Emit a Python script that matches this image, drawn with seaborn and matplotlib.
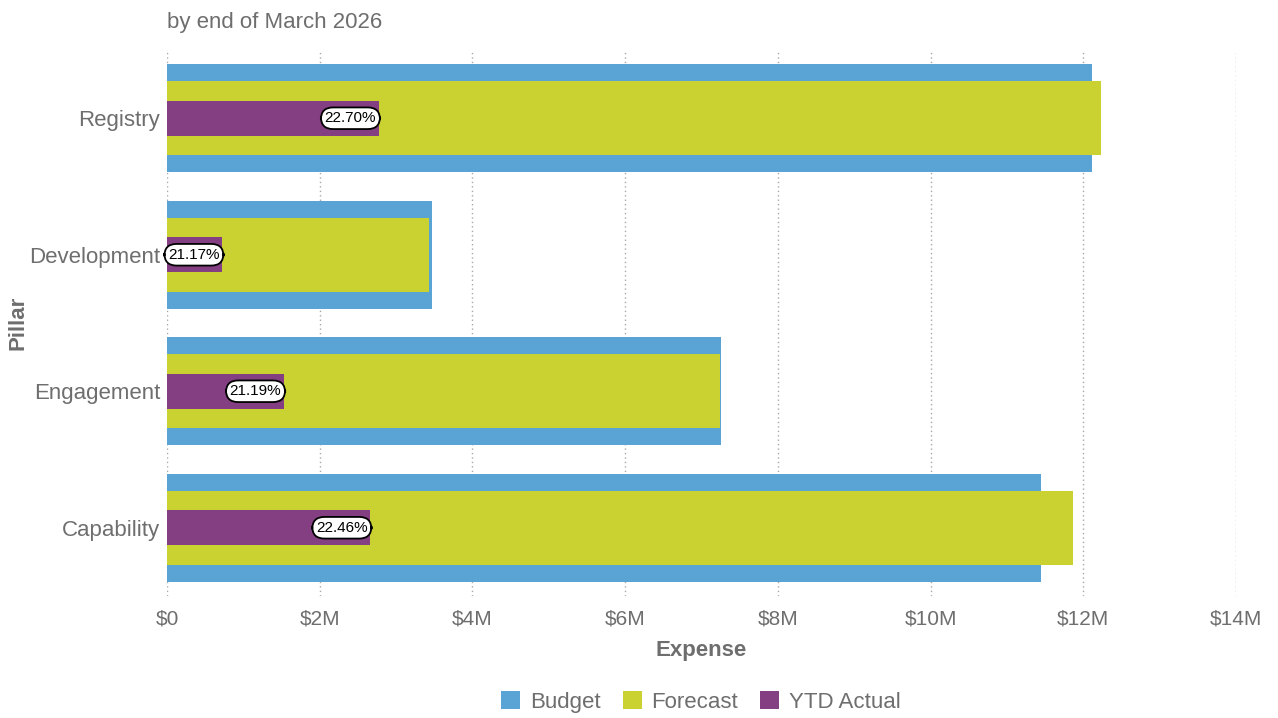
import matplotlib
matplotlib.use("Agg")
import matplotlib.pyplot as plt
from matplotlib.patches import Patch
from matplotlib.ticker import FuncFormatter, MultipleLocator
import seaborn as sns
import pandas as pd

# Expense by pillar, in $M
pillars = ["Registry", "Development", "Engagement", "Capability"]
budget = [12.12, 3.47, 7.25, 11.44]
forecast = [12.23, 3.43, 7.24, 11.86]
ytd_actual = [2.776, 0.726, 1.534, 2.664]

BLUE = "#5AA3D5"
LIME = "#C9D230"
PURPLE = "#843F82"
GREY = "#6E6E6E"

df = pd.DataFrame({"Pillar": pillars, "Budget": budget,
                   "Forecast": forecast, "YTD Actual": ytd_actual})

sns.set_theme(style="white")
plt.rcParams["font.family"] = ["Liberation Sans", "DejaVu Sans"]

fig = plt.figure(figsize=(12.78, 7.18), dpi=100)
ax = fig.add_axes([167 / 1278, 1 - 596 / 718, (1236 - 167) / 1278, (596 - 50) / 718])

# Layered bars: budget widest at the back, YTD actual narrowest at the front
sns.barplot(data=df, x="Budget", y="Pillar", order=pillars, color=BLUE,
            width=0.79, saturation=1, linewidth=0, ax=ax, zorder=2)
sns.barplot(data=df, x="Forecast", y="Pillar", order=pillars, color=LIME,
            width=0.54, saturation=1, linewidth=0, ax=ax, zorder=3)
sns.barplot(data=df, x="YTD Actual", y="Pillar", order=pillars, color=PURPLE,
            width=0.26, saturation=1, linewidth=0, ax=ax, zorder=4)

# Share of forecast spent so far, pinned to the end of each YTD bar
for i, (y_val, f_val) in enumerate(zip(ytd_actual, forecast)):
    ax.annotate(f"{y_val / f_val * 100:.2f}%", xy=(y_val, i), xytext=(-2, 0),
                textcoords="offset points", ha="right", va="center",
                fontsize=11, color="black", zorder=6,
                bbox=dict(boxstyle="round,pad=0.25,rounding_size=0.8",
                          fc="white", ec="black", lw=1.3))

ax.set_xlim(0, 14)
ax.set_ylim(3.5, -0.5)
ax.xaxis.set_major_locator(MultipleLocator(2))
ax.xaxis.set_major_formatter(FuncFormatter(lambda v, _: "$0" if v == 0 else f"${v:.0f}M"))
ax.grid(axis="x", color="#A8A8A8", linestyle=(0, (1, 2.2)), linewidth=1.0, zorder=0)
ax.grid(axis="y", visible=False)
for s in ax.spines.values():
    s.set_visible(False)
ax.tick_params(axis="both", colors=GREY, length=0)
ax.tick_params(axis="x", pad=10, labelsize=15)
ax.tick_params(axis="y", pad=5, labelsize=16)

ax.set_xlabel("Expense", fontsize=16, fontweight="bold", color=GREY, labelpad=8)
ax.set_ylabel("Pillar", fontsize=16, fontweight="bold", color=GREY)
ax.yaxis.set_label_coords(-0.130, 0.5)
ax.set_title("by end of March 2026", loc="left", fontsize=16, color=GREY, pad=16)

handles = [Patch(facecolor=c, edgecolor="none", label=l)
           for c, l in zip([BLUE, LIME, PURPLE], ["Budget", "Forecast", "YTD Actual"])]
leg = fig.legend(handles=handles, loc="center", bbox_to_anchor=(701 / 1278, 1 - 702 / 718),
                 ncol=3, frameon=False, fontsize=16, handlelength=0.85, handleheight=0.85,
                 handletextpad=0.45, columnspacing=1.0)
for t in leg.get_texts():
    t.set_color(GREY)

fig.savefig("out.png", dpi=100)
